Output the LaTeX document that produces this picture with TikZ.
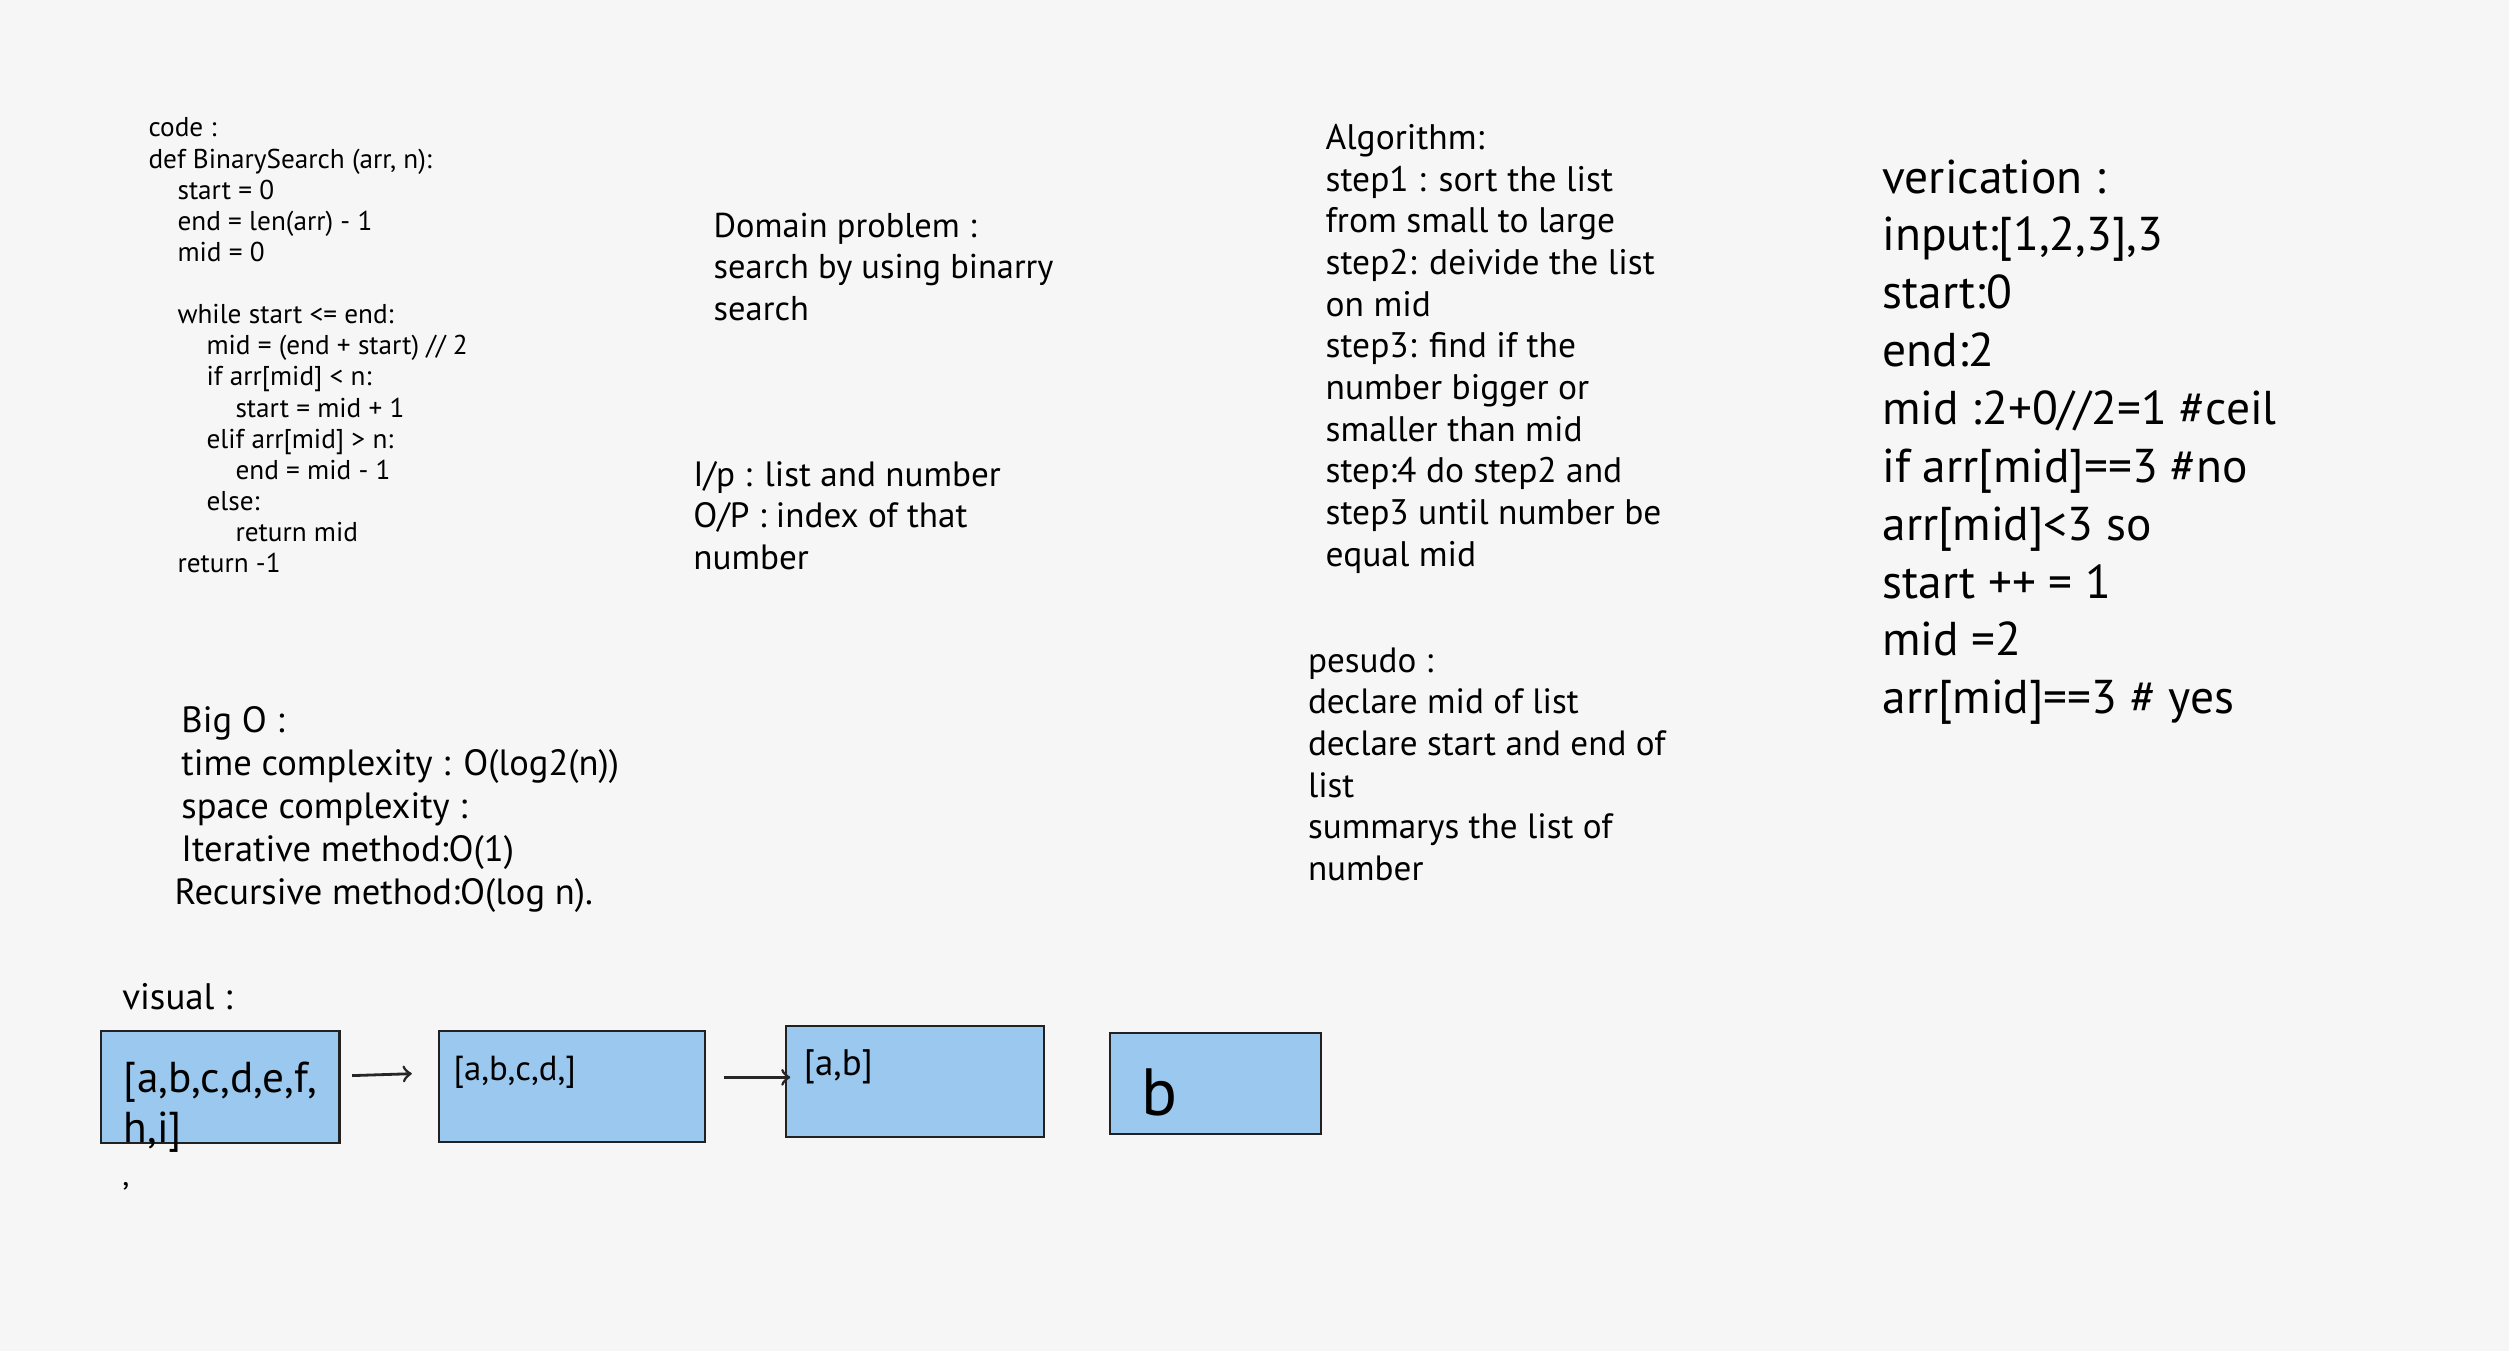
\documentclass[tikz,border=0pt]{standalone}
\usepackage{fontspec}
\setmainfont{PT Sans}
\definecolor{boxblue}{HTML}{9AC8EE}
\definecolor{paper}{HTML}{F6F6F6}
\begin{document}
\begin{tikzpicture}[
x=0.016cm, y=-0.016cm,
txt/.style={%
anchor=north west, align=left, inner sep=0pt
},
blk/.style={%
draw=black!87, fill=boxblue, line width=0.6pt, inner sep=0pt
},
arr/.style={%
->, line width=0.8pt, black!85
}
]
\fill[paper](0,0)rectangle(1568,844);
\useasboundingbox(0,0)rectangle(1568,844);
%% Code
\node[txt,font=\fontsize{7.75}{8.86}\selectfont]at(92.4,73.2)(code){code :\\
def BinarySearch (arr, n):\\
\hspace*{0.29cm}start = 0\\
\hspace*{0.29cm}end = len(arr) - 1\\
\hspace*{0.29cm}mid = 0\\
\mbox{}\\
\hspace*{0.29cm}while start <= end:\\
\hspace*{0.58cm}mid = (end + start) // 2\\
\hspace*{0.58cm}if arr[mid] < n:\\
\hspace*{0.87cm}start = mid + 1\\
\hspace*{0.58cm}elif arr[mid] > n:\\
\hspace*{0.87cm}end = mid - 1\\
\hspace*{0.58cm}else:\\
\hspace*{0.87cm}return mid\\
\hspace*{0.29cm}return -1};
%% Domain problem
\node[txt,font=\fontsize{9.8}{11.85}\selectfont]at(445.6,132.6)(domain){Domain problem :\\
search by using binarry\\
search};
\node[txt,font=\fontsize{10}{11.85}\selectfont]at(432.9,287.8)(io){I/p : list and number\\
O/P : index of that\\
number};
%% Algorithm
\node[txt,font=\fontsize{10.1}{11.86}\selectfont]at(828,77.3)(algo){Algorithm:\\
step1 : sort the list\\
from small to large\\
step2: deivide the list\\
on mid\\
step3: find if the\\
number bigger or\\
smaller than mid\\
step:4 do step2 and\\
step3 until number be\\
equal mid};
\node[txt,font=\fontsize{10}{11.86}\selectfont]at(817,404.2)(pseudo){pesudo :\\
declare mid of list\\
declare start and end of\\
list\\
summarys the list of\\
number};
%% Verification
\node[txt,font=\fontsize{13.5}{16.47}\selectfont]at(1176,99.2)(verif){verication :\\
input:[1,2,3],3\\
start:0\\
end:2\\
mid :2+0//2=1 \#ceil\\
if arr[mid]==3 \#no\\
arr[mid]<3 so\\
start ++ = 1\\
mid =2\\
arr[mid]==3 \# yes};
%% Big O
\node[txt,font=\fontsize{10.4}{12.3}\selectfont]at(108.75,440.8)(bigo){\hspace*{0.067cm}Big O :\\
\hspace*{0.067cm}time complexity : O(log2(n))\\
\hspace*{0.067cm}space complexity :\\
\hspace*{0.067cm}Iterative method:O(1)\\
Recursive method:O(log n).};
%% Visual
\node[anchor=base west,inner sep=0pt,font=\fontsize{10.5}{12}\selectfont]at(76,631)(visual){visual :};
\node[blk,minimum width=149.3*0.016cm,minimum height=70*0.016cm]at(137.5,679.2)(box1){};
\node[blk,minimum width=166.4*0.016cm,minimum height=69.5*0.016cm]at(357.6,679)(box2){};
\node[blk,minimum width=161.7*0.016cm,minimum height=69.8*0.016cm]at(571.8,675.9)(box3){};
\node[blk,minimum width=131.6*0.016cm,minimum height=63*0.016cm]at(759.5,677.3)(box4){};
\node[txt,font=\fontsize{12.3}{14.3}\selectfont]at(77,663)(t1){[a,b,c,d,e,f,\\h,i]};
\node[anchor=base west,inner sep=0pt,font=\fontsize{9.9}{11}\selectfont]at(283,675)(t2){[a,b,c,d,]};
\node[anchor=base west,inner sep=0pt,font=\fontsize{10.5}{11}\selectfont]at(502,672)(t3){[a,b]};
\node[anchor=base west,inner sep=0pt,font=\fontsize{19}{22}\selectfont]at(713,697)(t4){b};
\node[anchor=base west,inner sep=0pt,font=\fontsize{9}{11}\selectfont]at(76,741)(comma){,};
\draw[arr]([shift={(7.3,-7)}]box1.east)--([shift={(-16.4,-8)}]box2.west);
\draw[arr]([shift={(10.8,-5.7)}]box2.east)--([shift={(3.6,-2.6)}]box3.west);
\end{tikzpicture}
\end{document}
